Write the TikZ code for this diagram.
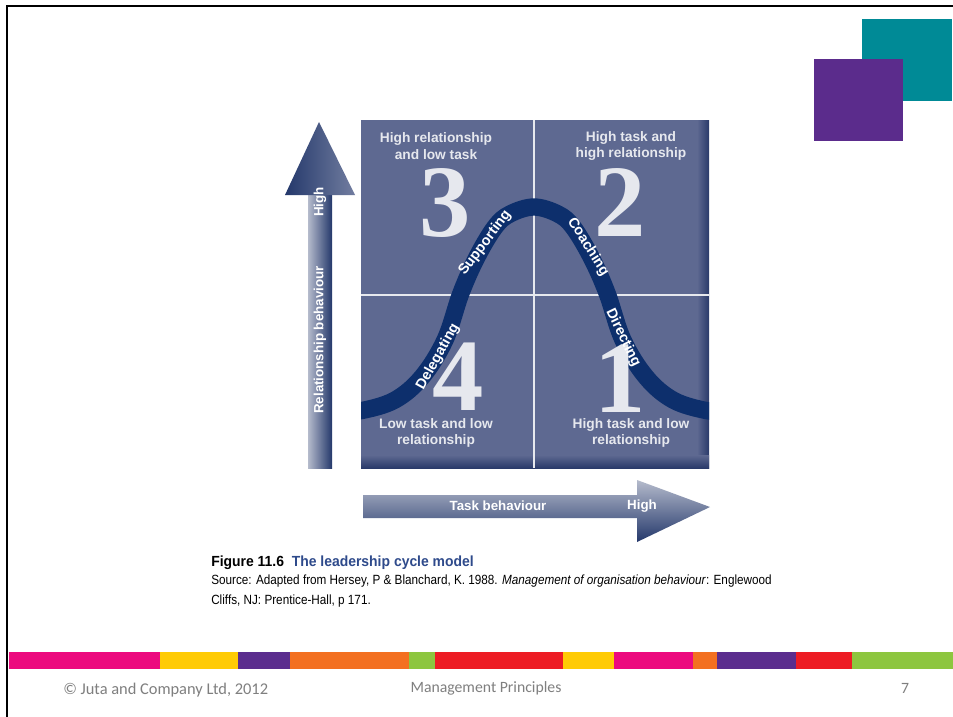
\documentclass[tikz,border=0pt]{standalone}
\usepackage{fontspec}
\usepackage{tikz}
\usetikzlibrary{shapes, arrows, positioning}

\setmainfont{Liberation Sans}
\newfontfamily\numfont{Liberation Serif}
\newfontfamily\narrowfont[FakeStretch=0.88]{Liberation Sans}
\newfontfamily\titlefont[FakeStretch=0.95]{Liberation Sans}
\newfontfamily\footfont{Carlito}

\definecolor{gridblue}{HTML}{5E6991}
\definecolor{griddark}{HTML}{2A3A6A}
\definecolor{curveblue}{HTML}{0D2F6C}
\definecolor{arrowdark}{HTML}{24386B}
\definecolor{arrowmid}{HTML}{55638D}
\definecolor{arrowlight}{HTML}{B5BBCC}
\definecolor{numwhite}{HTML}{E6E8EE}
\definecolor{capblue}{HTML}{2E4A8B}
\definecolor{boxteal}{HTML}{008A96}
\definecolor{boxpurple}{HTML}{5B2C8C}
\definecolor{barpink}{HTML}{EC0A7E}
\definecolor{baryellow}{HTML}{FFCB05}
\definecolor{barpurple}{HTML}{5B2D8E}
\definecolor{barorange}{HTML}{F37021}
\definecolor{bargreen}{HTML}{8DC63F}
\definecolor{barred}{HTML}{ED1C24}
\definecolor{footgrey}{HTML}{7F7F7F}

\begin{document}
\begin{tikzpicture}[x=0.75pt, y=-0.75pt,
        quadlabel/.style={text=numwhite, align=center, inner sep=0pt, font=\fontsize{10.3}{12.5}\selectfont\bfseries},
        bignum/.style={text=numwhite, inner sep=0pt, font=\numfont\fontsize{77}{77}\selectfont\bfseries},
        curvelabel/.style={text=white, inner sep=0pt, font=\fontsize{10.8}{11}\selectfont\bfseries},
        axislabel/.style={text=white, inner sep=0pt, font=\fontsize{10}{12}\selectfont\bfseries},
        footer/.style={text=footgrey, inner sep=0pt, font=\footfont\fontsize{11.8}{13}\selectfont}]

        \useasboundingbox (0,0) rectangle (953,717);
        \fill[white] (0,0) rectangle (953,717);

        % Slide frame and corner squares
        \draw[line width=1.8pt] (7,717) -- (7,6) -- (953,6);
        \fill[boxteal] (862,19) rectangle (952,101);
        \fill[boxpurple] (814,59) rectangle (903,141);

        % Quadrant grid
        \fill[gridblue] (361,120) rectangle (709,468);
        \shade[left color=gridblue, right color=griddark] (697,120) rectangle (709,468);
        \shade[top color=gridblue, bottom color=griddark] (361,455) rectangle (709,468);
        \draw[white!85!gridblue, line width=1.2pt] (534,120) -- (534,468);
        \draw[white!85!gridblue, line width=1.2pt] (361,295) -- (709,295);

        % Cycle curve
        \begin{scope}
            \clip (361,120) rectangle (709,468);
            \draw[curveblue, line width=13pt] plot[smooth, tension=0.6] coordinates {(340,411.5) (362,410.5) (395,400) (422,377) (445,340) (461,293) (477,257) (495,227) (510,214) (534,207) (558,214) (573,227) (591,257) (607,293) (623,340) (646,377) (673,400) (706,410.5) (728,411.5)};
        \end{scope}

        % Big numbers
        \node (three) [bignum] at (445,203) {3};
        \node (two) [bignum] at (620,203) {2};
        \node (four) [bignum] at (458,377) {4};
        \node (one) [bignum] at (620,379) {1};

        % Curve labels
        \node (supporting) [curvelabel, rotate=53] at (485,243) {Supporting};
        \node (coaching) [curvelabel, rotate=-58] at (588,247) {Coaching};
        \node (delegating) [curvelabel, rotate=61] at (438,357) {Delegating};
        \node (directing) [curvelabel, rotate=-64] at (623,338) {Directing};

        % Quadrant labels
        \node (q3) [quadlabel] at (436,146) {High relationship\\and low task};
        \node (q2) [quadlabel] at (631,146) {High task and\\high relationship};
        \node (q4) [quadlabel] at (436,433) {Low task and low\\relationship};
        \node (q1) [quadlabel] at (631,433) {High task and low\\relationship};

        % Axis arrows
        \shade[left color=arrowlight, right color=arrowdark] (308,468) rectangle (332,195);
        \shade[left color=arrowdark, right color=arrowmid!70!arrowlight] (285,195) -- (319,122) -- (355,195) -- cycle;
        \shade[top color=arrowlight, bottom color=arrowdark] (363,495) -- (637,495) -- (637,480) -- (710,507) -- (637,542) -- (637,518) -- (363,518) -- cycle;
        \node (relbeh) [axislabel, rotate=90] at (320,340) {Relationship behaviour};
        \node (relhigh) [axislabel, rotate=90] at (320,202) {High};
        \node (taskbeh) [axislabel] at (498,506) {Task behaviour};
        \node (taskhigh) [axislabel] at (642,506) {High};

        % Caption
        \node (figcap) [anchor=west, inner sep=0pt, font=\titlefont\fontsize{11}{13}\selectfont\bfseries] at (211,563) {Figure 11.6\ \ \textcolor{capblue}{The leadership cycle model}};
        \node (source) [anchor=west, inner sep=0pt, font=\narrowfont\fontsize{10}{12}\selectfont] at (211,581) {Source: Adapted from Hersey, P \& Blanchard, K. 1988. \textit{Management of organisation behaviour}: Englewood};
        \node (cliffs) [anchor=west, inner sep=0pt, font=\narrowfont\fontsize{10}{12}\selectfont] at (211,601) {Cliffs, NJ: Prentice-Hall, p 171.};

        % Colour bar
        \foreach \xa/\xb/\barcol in {9/160/barpink, 160/238/baryellow, 238/290/barpurple, 290/409/barorange, 409/435/bargreen, 435/563/barred, 563/614/baryellow, 614/693/barpink, 693/717/barorange, 717/796/barpurple, 796/852/barred, 852/953/bargreen}
            \fill[\barcol] (\xa,652) rectangle (\xb,669);

        % Footer
        \node (copy) [footer, anchor=west, font=\footfont\fontsize{12.3}{13}\selectfont] at (63,690) {© Juta and Company Ltd, 2012};
        \node (title) [footer] at (486,688) {Management Principles};
        \node (page) [footer] at (905,688) {7};
    \end{tikzpicture}
\end{document}
